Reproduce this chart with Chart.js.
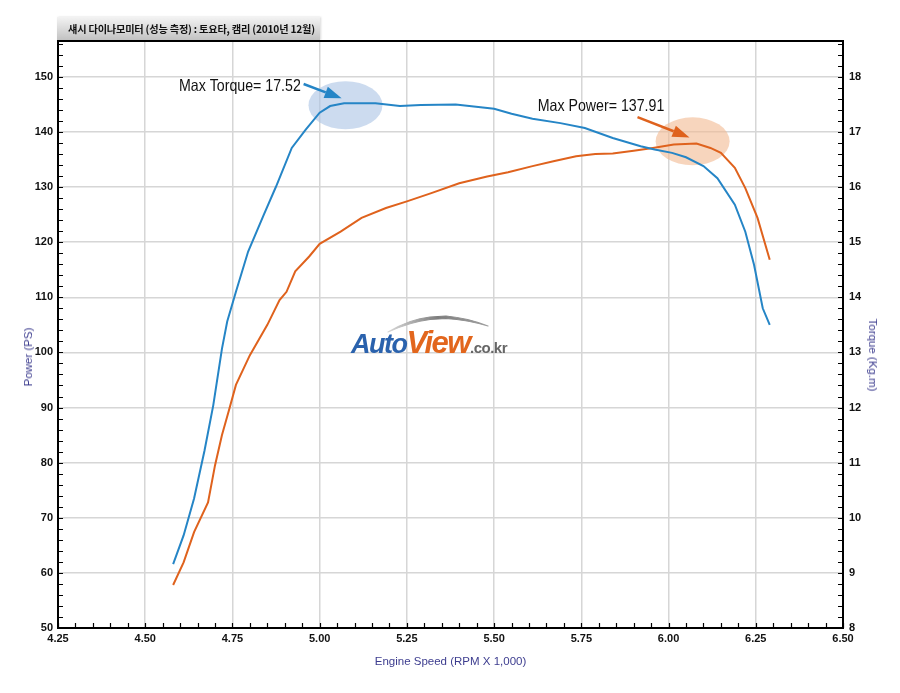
<!DOCTYPE html>
<html>
<head>
  <title>Chassis Dyno - Toyota Camry</title>
  <script src="https://cdn.jsdelivr.net/npm/chart.js"></script>
  <style>
    body {
      margin: 0;
      background: #ffffff;
      font-family: 'Liberation Sans', Arial, sans-serif;
    }
    #wrap { position: relative; width: 900px; height: 693px; }
    #header {
      position: absolute; left: 57px; top: 17px; width: 263px; height: 23px;
      background: linear-gradient(#f3f3f3, #c2c2c2);
      box-shadow: 1px 0 2px rgba(0,0,0,0.15);
      font: bold 10.2px 'Noto Sans CJK KR', sans-serif;
      line-height: 23px; padding-left: 11px; box-sizing: border-box;
      color: #111; white-space: nowrap; letter-spacing: -0.2px;
    }
    .ytitle {
      position: absolute; font-size: 11.5px; color: #3d3d8f; white-space: nowrap;
    }
    #logo { position: absolute; left: 351px; top: 327px; white-space: nowrap; line-height: 1; }
    #logo span { font-weight: bold; font-style: italic; letter-spacing: -1.5px; }
  </style>
</head>
<body>
<div id="wrap">
  <canvas id="dyno" width="900" height="693"></canvas>

  <div id="header">섀시 다이나모미터 (성능 측정) :  토요타, 캠리 (2010년 12월)</div>

  <div class="ytitle" style="left: 28px; top: 357px; transform: translate(-50%,-50%) rotate(-90deg);">Power (PS)</div>
  <div class="ytitle" style="left: 873px; top: 355px; transform: translate(-50%,-50%) rotate(90deg);">Torque (Kg.m)</div>

  <!-- watermark -->
  <svg style="position:absolute; left:380px; top:307px;" width="120" height="35">
    <defs>
      <linearGradient id="roof" x1="0" x2="1">
        <stop offset="0" stop-color="#d8d8d8"/>
        <stop offset="0.5" stop-color="#7d7d7d"/>
        <stop offset="1" stop-color="#a0a0a0"/>
      </linearGradient>
    </defs>
    <path d="M8 25 Q 30 12 50 10 L 66 9 Q 88 11 108 19 Q 88 13 66 11.5 L 50 12.5 Q 30 15 8 25 Z" fill="url(#roof)" stroke="url(#roof)" stroke-width="1.2" stroke-linejoin="round"/>
  </svg>
  <div id="logo">
    <span style="font-size:27px; color:#2a62ad;">Auto</span><span style="font-size:31px; color:#e2661d;">View</span><span style="font-size:15px; color:#666; font-style:normal; letter-spacing:-0.5px;">.co.kr</span>
  </div>
</div>

<script>
  // data
  const powerRpm = [4.58, 4.61, 4.64, 4.68, 4.70, 4.72, 4.74, 4.76, 4.80, 4.85, 4.885, 4.905, 4.93, 4.97, 5.00,
                    5.06, 5.12, 5.19, 5.25, 5.32, 5.40, 5.48, 5.54, 5.61, 5.67, 5.735, 5.79, 5.84, 5.90, 5.955,
                    6.015, 6.08, 6.12, 6.15, 6.19, 6.22, 6.255, 6.29];
  const powerPs = [57.8, 61.9, 67.4, 72.8, 79.5, 85.0, 89.5, 94.1, 99.5, 105.0, 109.5, 111.0, 114.7, 117.4, 119.7,
                   121.9, 124.4, 126.2, 127.4, 128.9, 130.7, 131.9, 132.7, 133.8, 134.7, 135.6, 136.0, 136.1, 136.6, 137.1,
                   137.7, 137.91, 137.1, 136.2, 133.5, 129.8, 124.4, 116.8];

  const torqueRpm = [4.58, 4.61, 4.64, 4.67, 4.695, 4.72, 4.735, 4.76, 4.795, 4.84, 4.875, 4.92, 4.96, 5.00, 5.03,
                     5.07, 5.16, 5.23, 5.29, 5.39, 5.50, 5.55, 5.61, 5.69, 5.76, 5.84, 5.92, 5.96, 6.01, 6.05,
                     6.10, 6.14, 6.19, 6.22, 6.245, 6.27, 6.29];
  const torqueKgm = [9.16, 9.68, 10.35, 11.22, 12.04, 13.07, 13.56, 14.10, 14.83, 15.50, 16.01, 16.71, 17.04, 17.35, 17.47,
                     17.52, 17.52, 17.47, 17.49, 17.50, 17.42, 17.33, 17.24, 17.16, 17.07, 16.89, 16.74, 16.68, 16.62, 16.54,
                     16.38, 16.16, 15.68, 15.19, 14.59, 13.80, 13.50];

  const peakLabels = ['Max Torque= 17.52', 'Max Power= 137.91'];

  const BLUE = '#2585c6';
  const ORANGE = '#df621d';

  // condensed text like the original sheet
  function narrowText(ctx, text, px, py, align) {
    const sx = 0.86;
    ctx.save();
    ctx.translate(px, py);
    ctx.scale(sx, 1);
    ctx.textAlign = align;
    ctx.fillText(text, 0, 0);
    ctx.restore();
  }

  // minor ticks, frame, highlight blobs, arrows
  const dynoDecor = {
    id: 'dynoDecor',
    beforeDatasetsDraw(chart) {
      const { ctx, scales: { x, y } } = chart;
      ctx.save();
      ctx.fillStyle = 'rgba(170, 195, 228, 0.6)';
      ctx.beginPath();
      ctx.ellipse(x.getPixelForValue(5.074), y.getPixelForValue(144.85), 37, 24, 0, 0, Math.PI * 2);
      ctx.fill();
      ctx.fillStyle = 'rgba(242, 185, 145, 0.6)';
      ctx.beginPath();
      ctx.ellipse(x.getPixelForValue(6.069), y.getPixelForValue(138.3), 37, 24, 0, 0, Math.PI * 2);
      ctx.fill();
      ctx.restore();
    },
    afterDatasetsDraw(chart) {
      const { ctx, chartArea: a, scales: { x, y, y1 } } = chart;
      ctx.save();

      // inward minor ticks
      ctx.strokeStyle = '#000';
      ctx.lineWidth = 1.2;
      ctx.beginPath();
      for (let v = 4.25; v <= 6.5001; v += 0.05) {
        const px = Math.round(x.getPixelForValue(v)) + 0.5;
        ctx.moveTo(px, a.bottom); ctx.lineTo(px, a.bottom - 5);
      }
      for (let v = 50; v <= 156; v += 2) {
        const py = Math.round(y.getPixelForValue(v)) + 0.5;
        ctx.moveTo(a.left, py); ctx.lineTo(a.left + 5, py);
      }
      for (let v = 8; v <= 18.6; v += 0.2) {
        const py = Math.round(y1.getPixelForValue(v)) + 0.5;
        ctx.moveTo(a.right, py); ctx.lineTo(a.right - 5, py);
      }
      ctx.stroke();

      // frame
      ctx.lineWidth = 2;
      ctx.strokeRect(a.left, a.top, a.right - a.left, a.bottom - a.top);

      // peak callouts
      ctx.font = '16.5px "Liberation Sans", Arial, sans-serif';
      ctx.fillStyle = '#111';
      ctx.textBaseline = 'middle';
      narrowText(ctx, peakLabels[0], x.getPixelForValue(4.946), y.getPixelForValue(148.3), 'right');
      narrowText(ctx, peakLabels[1], x.getPixelForValue(5.625), y.getPixelForValue(144.7), 'left');

      drawArrow(ctx, x.getPixelForValue(4.954), y.getPixelForValue(148.7),
                x.getPixelForValue(5.063), y.getPixelForValue(146.1), BLUE);
      drawArrow(ctx, x.getPixelForValue(5.911), y.getPixelForValue(142.7),
                x.getPixelForValue(6.060), y.getPixelForValue(139.0), ORANGE);
      ctx.restore();
    }
  };

  function drawArrow(ctx, x1, y1, x2, y2, color) {
    const ang = Math.atan2(y2 - y1, x2 - x1);
    const len = 17, half = 6;
    const bx = x2 - len * Math.cos(ang), by = y2 - len * Math.sin(ang);
    ctx.strokeStyle = color;
    ctx.fillStyle = color;
    ctx.lineWidth = 2.5;
    ctx.beginPath();
    ctx.moveTo(x1, y1);
    ctx.lineTo(bx, by);
    ctx.stroke();
    ctx.beginPath();
    ctx.moveTo(x2, y2);
    ctx.lineTo(bx + half * Math.sin(ang), by - half * Math.cos(ang));
    ctx.lineTo(bx - half * Math.sin(ang), by + half * Math.cos(ang));
    ctx.closePath();
    ctx.fill();
  }

  const tickFont = { family: "'Liberation Sans', Arial, sans-serif", size: 11, weight: 'bold' };

  new Chart(document.getElementById('dyno'), {
    type: 'line',
    data: {
      datasets: [
        {
          label: 'Torque (Kg.m)',
          data: torqueRpm.map((r, i) => ({ x: r, y: torqueKgm[i] })),
          yAxisID: 'y1',
          borderColor: BLUE,
          borderWidth: 2,
          pointRadius: 0,
          tension: 0
        },
        {
          label: 'Power (PS)',
          data: powerRpm.map((r, i) => ({ x: r, y: powerPs[i] })),
          yAxisID: 'y',
          borderColor: ORANGE,
          borderWidth: 2,
          pointRadius: 0,
          tension: 0
        }
      ]
    },
    options: {
      responsive: false,
      animation: false,
      layout: { padding: { top: 41, left: 0, right: 0, bottom: 0 } },
      plugins: {
        legend: { display: false },
        tooltip: { enabled: false }
      },
      scales: {
        x: {
          type: 'linear',
          min: 4.25,
          max: 6.5,
          afterFit: s => { s.height = 65; },
          ticks: {
            stepSize: 0.25,
            includeBounds: false,
            padding: 4,
            color: '#111',
            font: tickFont,
            maxRotation: 0,
            autoSkip: false,
            callback: v => v.toFixed(2)
          },
          grid: { color: '#d6d6d6', lineWidth: 1.5, drawTicks: false },
          border: { display: false },
          title: {
            display: true,
            text: 'Engine Speed (RPM X 1,000)',
            color: '#3d3d8f',
            font: { family: "'Liberation Sans', Arial, sans-serif", size: 11.5 },
            padding: { top: 0, bottom: 24 }
          }
        },
        y: {
          position: 'left',
          min: 50,
          max: 156.5,
          afterFit: s => { s.width = 58; },
          ticks: { stepSize: 10, includeBounds: false, padding: 5, color: '#111', font: tickFont },
          grid: { color: '#d6d6d6', lineWidth: 1.5, drawTicks: false },
          border: { display: false }
        },
        y1: {
          position: 'right',
          min: 8,
          max: 18.65,
          afterFit: s => { s.width = 57; },
          ticks: { stepSize: 1, includeBounds: false, padding: 6, color: '#111', font: tickFont },
          grid: { drawOnChartArea: false, drawTicks: false },
          border: { display: false }
        }
      }
    },
    plugins: [dynoDecor]
  });
</script>
</body>
</html>
